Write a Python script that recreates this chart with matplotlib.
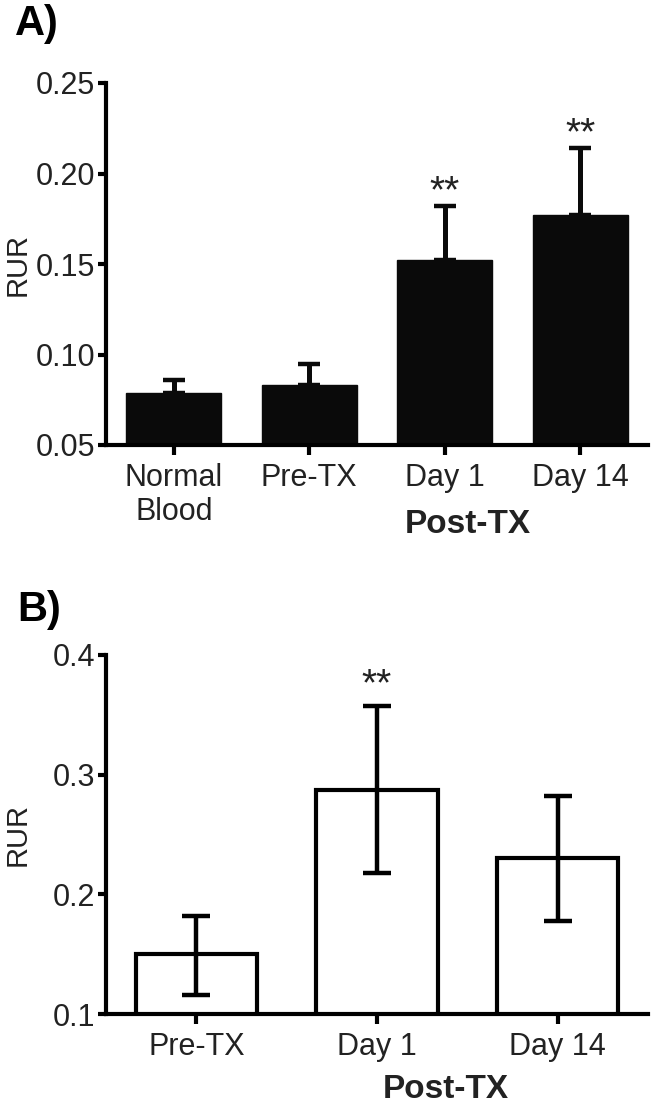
import matplotlib
matplotlib.use("Agg")
import matplotlib.pyplot as plt

plt.rcParams['font.family'] = ['Liberation Sans', 'DejaVu Sans']

# Panel A data
cats_a = ["Normal\nBlood", "Pre-TX", "Day 1", "Day 14"]
means_a = [0.079, 0.083, 0.152, 0.177]
upper_a = [0.086, 0.095, 0.182, 0.214]   # top of error bar
stars_a = ["", "", "**", "**"]
yticks_a = [0.05, 0.10, 0.15, 0.20, 0.25]
yticklabels_a = ["0.05", "0.10", "0.15", "0.20", "0.25"]

# Panel B data
cats_b = ["Pre-TX", "Day 1", "Day 14"]
means_b = [0.150, 0.287, 0.230]
upper_b = [0.182, 0.357, 0.282]
lower_b = [0.116, 0.218, 0.178]
stars_b = ["", "**", ""]
yticks_b = [0.1, 0.2, 0.3, 0.4]
yticklabels_b = ["0.1", "0.2", "0.3", "0.4"]

W, H = 657, 1111
fig = plt.figure(figsize=(W / 100, H / 100), dpi=100)

def px_axes(x0, y_top, x1, y_bot):
    return fig.add_axes([x0 / W, 1 - y_bot / H, (x1 - x0) / W, (y_bot - y_top) / H])

TICK_FS = 22
LW = 3.0
TXT = '#222222'

def style(ax, yticks, ylabels, ylim, nx, label_x):
    ax.set_ylim(*ylim)
    ax.set_xlim(-0.5, nx - 0.5)
    for s in ['top', 'right']:
        ax.spines[s].set_visible(False)
    for s in ['left', 'bottom']:
        ax.spines[s].set_linewidth(LW)
        ax.spines[s].set_color('black')
    ax.set_yticks(yticks)
    ax.set_yticklabels(ylabels)
    ax.tick_params(axis='y', length=6, width=LW, labelsize=TICK_FS, pad=2, labelcolor=TXT)
    ax.tick_params(axis='x', length=7, width=LW, labelsize=TICK_FS, pad=6, labelcolor=TXT)
    ax.set_ylabel("RUR", fontsize=21, color=TXT)
    ax.yaxis.set_label_coords(label_x, 0.5)
    ax.patch.set_alpha(0)

# ---- Panel A ----
axA = px_axes(106, 83, 648, 445)
xa = list(range(len(cats_a)))
yerr_a = [[0] * len(means_a), [u - m for u, m in zip(upper_a, means_a)]]
axA.bar(xa, means_a, width=0.70, color='#0a0a0a', edgecolor='#0a0a0a', zorder=2)
axA.errorbar(xa, means_a, yerr=yerr_a, fmt='none', ecolor='#0a0a0a',
             elinewidth=3.6, capsize=8, capthick=3.2, zorder=3)
style(axA, yticks_a, yticklabels_a, (0.05, 0.25), len(cats_a), -0.138)
axA.set_xticks(xa)
axA.set_xticklabels(cats_a, linespacing=1.15)
for x, u, s in zip(xa, upper_a, stars_a):
    if s:
        axA.annotate(s, (x, u), xytext=(0, -3), textcoords='offset points',
                     ha='center', va='bottom', fontsize=28, color=TXT)
axA.text(2.17, -0.22, "Post-TX", transform=axA.get_xaxis_transform(),
         ha='center', va='center', fontsize=24, fontweight='bold', color=TXT)

# ---- Panel B ----
axB = px_axes(106, 655, 648, 1014)
xb = list(range(len(cats_b)))
yerr_b = [[m - l for m, l in zip(means_b, lower_b)], [u - m for u, m in zip(upper_b, means_b)]]
axB.bar(xb, means_b, width=0.67, color='white', edgecolor='black', linewidth=3.0, zorder=2)
axB.errorbar(xb, means_b, yerr=yerr_b, fmt='none', ecolor='black',
             elinewidth=3.2, capsize=10, capthick=3.2, zorder=3)
style(axB, yticks_b, yticklabels_b, (0.1, 0.4), len(cats_b), -0.138)
axB.set_xticks(xb)
axB.set_xticklabels(cats_b)
for x, u, s in zip(xb, upper_b, stars_b):
    if s:
        axB.annotate(s, (x, u), xytext=(0, 2), textcoords='offset points',
                     ha='center', va='bottom', fontsize=28, color=TXT)
axB.text(1.38, -0.21, "Post-TX", transform=axB.get_xaxis_transform(),
         ha='center', va='center', fontsize=24, fontweight='bold', color=TXT)

# Panel letters
fig.text(15 / W, 1 - 24 / H, "A)", fontsize=30, fontweight='bold', ha='left', va='center')
fig.text(17 / W, 1 - 610 / H, "B)", fontsize=30, fontweight='bold', ha='left', va='center')

fig.savefig("out.png", dpi=100)
